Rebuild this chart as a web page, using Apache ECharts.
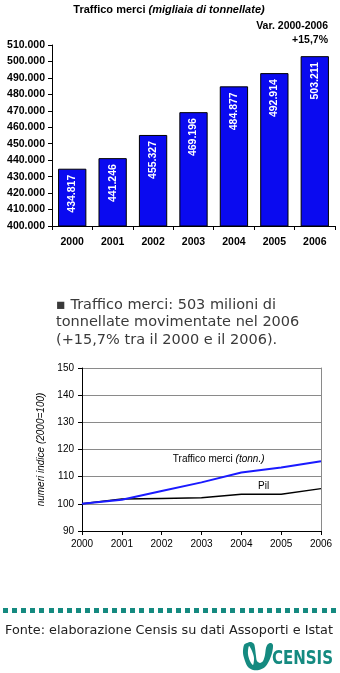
<!DOCTYPE html>
<html>
<head>
<meta charset="utf-8">
<script src="https://cdn.jsdelivr.net/npm/echarts@6/dist/echarts.min.js"></script>
<style>
  html, body { margin: 0; padding: 0; background: #fff; }
  #main { width: 340px; height: 673px; }
</style>
</head>
<body>
<div id="main"></div>
<script>
// Traffico merci: migliaia di tonnellate per anno
const years = ['2000', '2001', '2002', '2003', '2004', '2005', '2006'];
const trafficoTon = [434817, 441246, 455327, 469196, 484877, 492914, 503211];

// Numeri indice (2000=100)
const indiceTraffico = [100, 101.5, 104.7, 107.9, 111.5, 113.4, 115.7];
const indicePil = [100, 101.8, 102.0, 102.2, 103.5, 103.5, 105.6];

const FONT = '"Liberation Sans", Arial, sans-serif';
const WIDE = '"DejaVu Sans", Verdana, sans-serif';
const LOGO_FONT = 'bold 20px "DejaVu Sans Condensed", "DejaVu Sans", sans-serif';
const TEAL = '#158a80';

function fmtThousands(v) {
  return String(Math.round(v)).replace(/\B(?=(\d{3})+(?!\d))/g, '.');
}

// Horizontal squeeze so the logo word fits its 61px slot
const measureCtx = document.createElement('canvas').getContext('2d');
measureCtx.font = LOGO_FONT;
const logoScaleX = 61 / measureCtx.measureText('CENSIS').width;

const chart = echarts.init(document.getElementById('main'), null, { renderer: 'canvas' });

// Dotted separator squares
const dots = [];
for (let x = 3; x < 336; x += 9.1) {
  dots.push({
    type: 'rect',
    shape: { x: Math.round(x), y: 608, width: 5, height: 5 },
    style: { fill: TEAL }
  });
}

const option = {
  animation: false,
  backgroundColor: '#fff',
  textStyle: { fontFamily: FONT },
  grid: [
    { left: 52, right: 5, top: 45, bottom: 447 },
    { left: 82, right: 19, top: 368, bottom: 142 }
  ],
  xAxis: [
    {
      gridIndex: 0,
      type: 'category',
      data: years,
      axisLine: { lineStyle: { color: '#000', width: 1 } },
      axisTick: { show: true, length: 4, lineStyle: { color: '#000' } },
      axisLabel: { color: '#000', fontWeight: 'bold', fontSize: 10.5, margin: 11, fontFamily: FONT }
    },
    {
      gridIndex: 1,
      type: 'category',
      data: years,
      boundaryGap: false,
      axisLine: { lineStyle: { color: '#000', width: 1 } },
      axisTick: { show: true, length: 4, lineStyle: { color: '#000' } },
      axisLabel: { color: '#000', fontSize: 10, margin: 8, fontFamily: FONT }
    }
  ],
  yAxis: [
    {
      gridIndex: 0,
      type: 'value',
      min: 400000,
      max: 510000,
      interval: 10000,
      axisLine: { show: true, lineStyle: { color: '#000', width: 1 } },
      axisTick: { show: true, length: 4, lineStyle: { color: '#000' } },
      splitLine: { show: false },
      axisLabel: {
        color: '#000', fontWeight: 'bold', fontSize: 10.5, margin: 7, fontFamily: FONT,
        formatter: v => fmtThousands(v)
      }
    },
    {
      gridIndex: 1,
      type: 'value',
      min: 90,
      max: 150,
      interval: 10,
      name: 'numeri indice (2000=100)',
      nameLocation: 'middle',
      nameGap: 33,
      nameTextStyle: { fontStyle: 'italic', fontSize: 10, color: '#000', fontFamily: FONT },
      axisLine: { show: true, lineStyle: { color: '#000', width: 1 } },
      axisTick: { show: true, length: 4, lineStyle: { color: '#000' } },
      splitLine: { show: true, lineStyle: { color: '#8a8a8a', width: 1 } },
      axisLabel: { color: '#000', fontSize: 10, margin: 8, fontFamily: FONT }
    },
    {
      gridIndex: 1,
      type: 'value',
      position: 'right',
      min: 90,
      max: 150,
      interval: 10,
      axisLine: { show: true, lineStyle: { color: '#8a8a8a', width: 1 } },
      axisTick: { show: false },
      axisLabel: { show: false },
      splitLine: { show: false }
    }
  ],
  series: [
    {
      type: 'bar',
      xAxisIndex: 0,
      yAxisIndex: 0,
      data: trafficoTon,
      barWidth: '70%',
      itemStyle: { color: '#0a0af0', borderColor: '#000', borderWidth: 1 },
      label: {
        show: true,
        position: 'insideTop',
        distance: 6,
        rotate: 90,
        align: 'right',
        verticalAlign: 'middle',
        color: '#fff',
        fontWeight: 'bold',
        fontSize: 10.5,
        fontFamily: FONT,
        formatter: p => fmtThousands(p.value)
      }
    },
    {
      name: 'Traffico merci',
      type: 'line',
      xAxisIndex: 1,
      yAxisIndex: 1,
      data: indiceTraffico,
      symbol: 'none',
      lineStyle: { color: '#1a1aff', width: 2 },
      z: 3
    },
    {
      name: 'Pil',
      type: 'line',
      xAxisIndex: 1,
      yAxisIndex: 1,
      data: indicePil,
      symbol: 'none',
      lineStyle: { color: '#000', width: 1.5 },
      z: 2
    }
  ]
};

chart.setOption(option);

// Annotations anchored to the index chart's data coordinates
const p0 = chart.convertToPixel({ gridIndex: 1 }, [0, 100]);
const p6 = chart.convertToPixel({ gridIndex: 1 }, [6, 150]);
function idxToPixel(xi, yv) {
  const x = p0[0] + (p6[0] - p0[0]) * xi / 6;
  const y = p0[1] + (p6[1] - p0[1]) * (yv - 100) / 50;
  return [x, y];
}
const pTraffico = idxToPixel(2.28, 116.4);
const pPil = idxToPixel(4.42, 106.4);

// Teal "U" mark of the logo, built from polygon outlines
const logoOuter = [
  [244, 645], [247, 643], [251, 642], [254, 644], [255, 648], [256, 656],
  [257, 661], [260, 663], [263, 661], [265, 655], [266, 648], [268, 644],
  [271, 643], [273, 645], [272, 653], [269, 661], [265, 667], [259, 670],
  [253, 670], [248, 667], [245, 661], [243, 653]
];
const logoCut = [
  [249, 646], [252, 651], [254, 658], [253, 665], [250, 661], [248, 654]
];

chart.setOption({
  graphic: [
    {
      type: 'text',
      x: 169, y: 10,
      style: {
        text: '{b|Traffico merci }{i|(migliaia di tonnellate)}',
        align: 'center',
        verticalAlign: 'middle',
        rich: {
          b: { fontWeight: 'bold', fontSize: 11, fontFamily: FONT, fill: '#000' },
          i: { fontWeight: 'bold', fontStyle: 'italic', fontSize: 11, fontFamily: FONT, fill: '#000' }
        }
      }
    },
    {
      type: 'text', x: 328, y: 26,
      style: { text: 'Var. 2000-2006', font: 'bold 10.5px ' + FONT, fill: '#000', align: 'right', verticalAlign: 'middle' }
    },
    {
      type: 'text', x: 328, y: 40,
      style: { text: '+15,7%', font: 'bold 10.5px ' + FONT, fill: '#000', align: 'right', verticalAlign: 'middle' }
    },
    {
      type: 'text', x: 56, y: 296,
      style: {
        text: '\u25AA Traffico merci: 503 milioni di\ntonnellate movimentate nel 2006\n(+15,7% tra il 2000 e il 2006).',
        font: '14.5px ' + WIDE,
        lineHeight: 17.5,
        fill: '#3a3a3a'
      }
    },
    {
      type: 'text',
      x: pTraffico[0], y: pTraffico[1],
      style: {
        text: '{n|Traffico merci }{i|(tonn.)}',
        verticalAlign: 'middle',
        rich: {
          n: { fontSize: 10, fontFamily: FONT, fill: '#000' },
          i: { fontSize: 10, fontStyle: 'italic', fontFamily: FONT, fill: '#000' }
        }
      }
    },
    {
      type: 'text',
      x: pPil[0], y: pPil[1],
      style: { text: 'Pil', font: '10px ' + FONT, fill: '#000', verticalAlign: 'middle' }
    },
    {
      type: 'group',
      children: dots
    },
    {
      type: 'text', x: 5, y: 624,
      style: {
        text: 'Fonte: elaborazione Censis su dati Assoporti e Istat',
        font: '12.8px ' + WIDE,
        fill: '#222'
      }
    },
    {
      type: 'polygon',
      shape: { points: logoOuter, smooth: 0.3 },
      style: { fill: TEAL }
    },
    {
      type: 'polygon',
      shape: { points: logoCut, smooth: 0.3 },
      style: { fill: '#fff' }
    },
    {
      type: 'text', x: 272, y: 649,
      scaleX: logoScaleX,
      style: {
        text: 'CENSIS',
        font: LOGO_FONT,
        fill: TEAL
      }
    }
  ]
});
</script>
</body>
</html>
